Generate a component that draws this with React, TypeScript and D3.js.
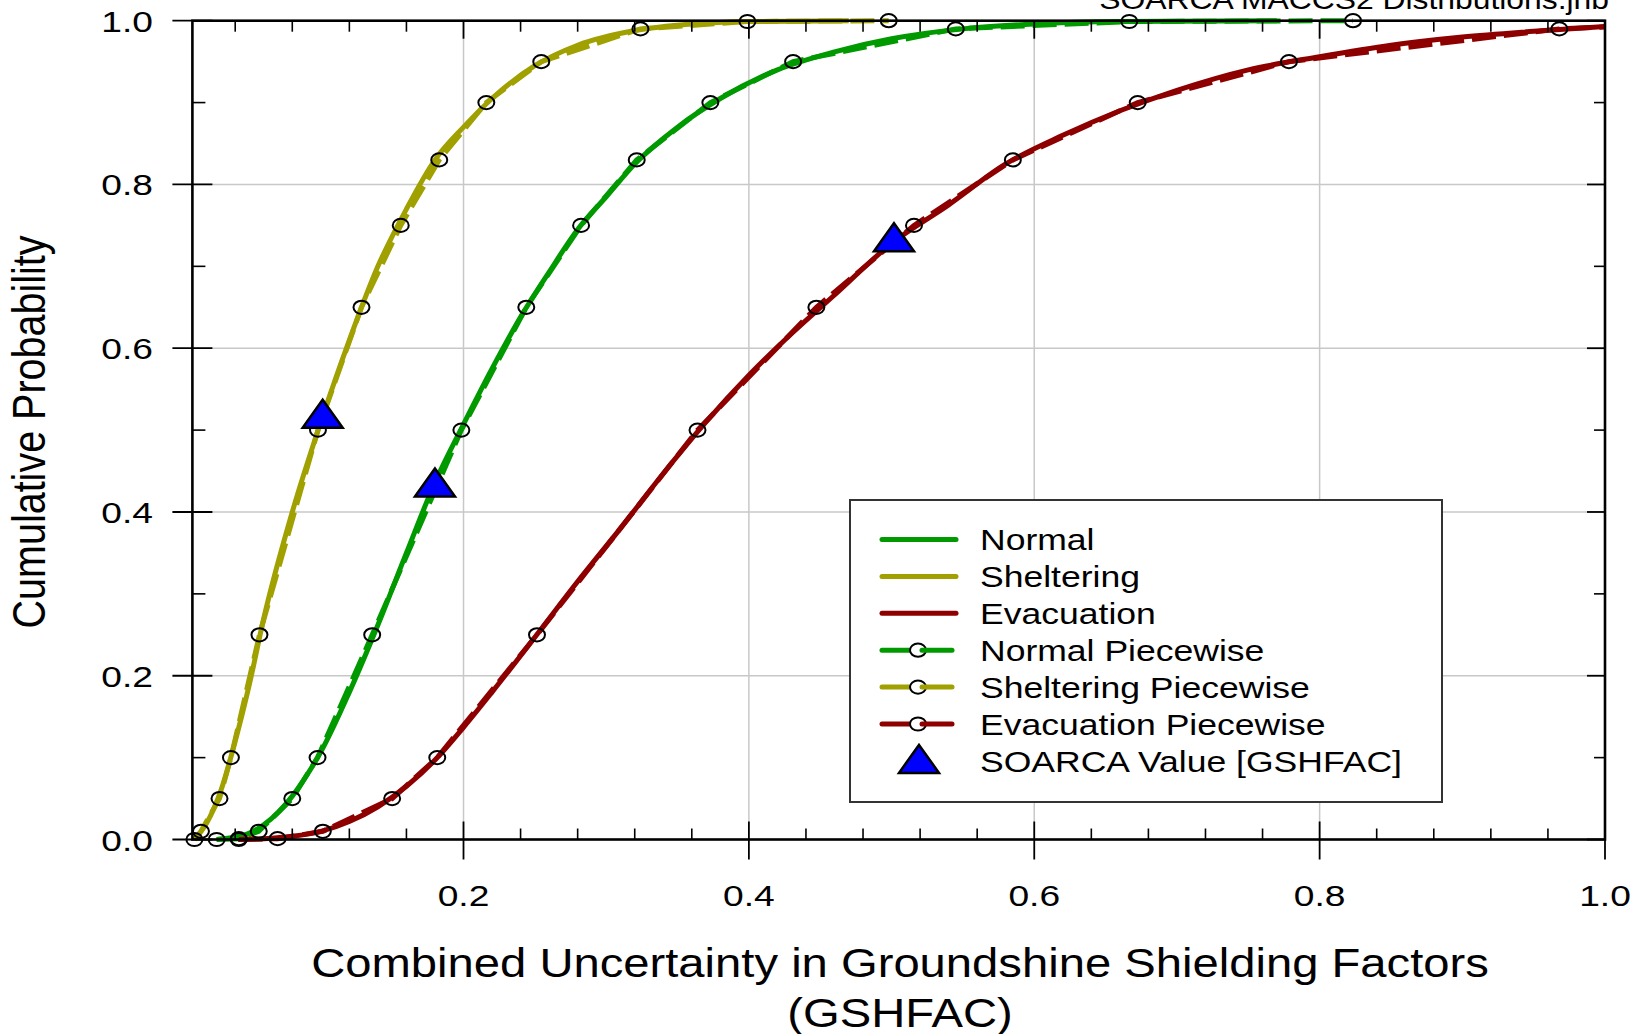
import React from 'react';
import * as d3 from 'd3';

// ---------- data ----------
const seriesNames = ['Normal', 'Sheltering', 'Evacuation'];
const seriesColors = ['#009a00', '#a0a000', '#8e0000'];

// continuous distributions (x, cumulative probability)
const normalX = [0.027, 0.04, 0.05, 0.06, 0.07, 0.08, 0.09, 0.10, 0.12, 0.14, 0.16, 0.18, 0.20, 0.22, 0.24, 0.26, 0.28, 0.30, 0.32, 0.35, 0.38, 0.42, 0.46, 0.50, 0.55, 0.60, 0.66, 0.77];
const normalP = [0, 0.003, 0.008, 0.018, 0.033, 0.053, 0.078, 0.107, 0.18, 0.262, 0.35, 0.436, 0.507, 0.575, 0.638, 0.693, 0.745, 0.785, 0.825, 0.87, 0.905, 0.94, 0.962, 0.978, 0.99, 0.996, 0.999, 1.0];

const shelterX = [0.0114, 0.02, 0.03, 0.04, 0.05, 0.06, 0.08, 0.10, 0.12, 0.14, 0.16, 0.18, 0.20, 0.22, 0.25, 0.28, 0.32, 0.36, 0.40, 0.47];
const shelterP = [0, 0.02, 0.06, 0.12, 0.19, 0.27, 0.40, 0.51, 0.61, 0.70, 0.77, 0.83, 0.87, 0.905, 0.945, 0.97, 0.988, 0.996, 0.999, 1.0];

const evacX = [0.042, 0.06, 0.08, 0.10, 0.12, 0.14, 0.16, 0.18, 0.20, 0.22, 0.25, 0.28, 0.31, 0.34, 0.37, 0.40, 0.43, 0.46, 0.50, 0.54, 0.58, 0.62, 0.66, 0.70, 0.75, 0.80, 0.85, 0.90, 0.95, 1.0];
const evacP = [0, 0.001, 0.004, 0.01, 0.022, 0.04, 0.065, 0.097, 0.137, 0.18, 0.247, 0.315, 0.38, 0.447, 0.51, 0.567, 0.618, 0.665, 0.728, 0.775, 0.825, 0.86, 0.89, 0.915, 0.94, 0.956, 0.97, 0.98, 0.987, 0.993];

// piecewise distributions
const normalPwX = [0.027, 0.0425, 0.0565, 0.080, 0.0977, 0.136, 0.1985, 0.244, 0.2824, 0.3214, 0.373, 0.431, 0.545, 0.6666, 0.8234];
const normalPwP = [0, 0.001, 0.01, 0.05, 0.1, 0.25, 0.5, 0.65, 0.75, 0.83, 0.9, 0.95, 0.99, 0.999, 1.0];

const shelterPwX = [0.0114, 0.016, 0.029, 0.037, 0.057, 0.098, 0.1285, 0.156, 0.183, 0.216, 0.2545, 0.324, 0.399, 0.498];
const shelterPwP = [0, 0.01, 0.05, 0.1, 0.25, 0.5, 0.65, 0.75, 0.83, 0.9, 0.95, 0.99, 0.999, 1.0];

const evacPwX = [0.0425, 0.0697, 0.1014, 0.150, 0.1816, 0.2515, 0.364, 0.4473, 0.5157, 0.585, 0.6725, 0.7785, 0.968, 1.1];
const evacPwP = [0, 0.001, 0.01, 0.05, 0.1, 0.25, 0.5, 0.65, 0.75, 0.83, 0.9, 0.95, 0.99, 1.0];

// SOARCA values
const soarcaX = [0.18, 0.1013, 0.5017];
const soarcaP = [0.436, 0.52, 0.7355];

// axes
const xMajorTicks = [0.2, 0.4, 0.6, 0.8, 1.0];
const xTickLabels = ['0.2', '0.4', '0.6', '0.8', '1.0'];
const xMinorTicks = [0.04, 0.08, 0.12, 0.16, 0.24, 0.28, 0.32, 0.36, 0.44, 0.48, 0.52, 0.56, 0.64, 0.68, 0.72, 0.76, 0.84, 0.88, 0.92, 0.96];
const yMajorTicks = [0, 0.2, 0.4, 0.6, 0.8, 1.0];
const yTickLabels = ['0.0', '0.2', '0.4', '0.6', '0.8', '1.0'];
const yMinorTicks = [0.1, 0.3, 0.5, 0.7, 0.9];
const xGrid = [0.2, 0.4, 0.6, 0.8];
const yGrid = [0.2, 0.4, 0.6, 0.8];

const legendLabels = ['Normal', 'Sheltering', 'Evacuation', 'Normal Piecewise', 'Sheltering Piecewise', 'Evacuation Piecewise', 'SOARCA Value [GSHFAC]'];
const titleText = 'SOARCA MACCS2 Distributions.jnb';
const xTitle1 = 'Combined Uncertainty in Groundshine Shielding Factors';
const xTitle2 = '(GSHFAC)';
const yTitle = 'Cumulative Probability';

// ---------- layout ----------
const W = 1648, H = 1034;
const PL = 192.4, PR = 1605, PT = 20.7, PB = 839.5;
const SX = 1.18;
const FONT = 'Liberation Sans, Arial, Helvetica, sans-serif';

const x = d3.scaleLinear().domain([0.01, 1.0]).range([PL, PR]);
const y = d3.scaleLinear().domain([0, 1]).range([PB, PT]);

const zip = (xs: number[], ps: number[]) => xs.map((v, i) => [v, ps[i]] as [number, number]);

const smooth = [zip(normalX, normalP), zip(shelterX, shelterP), zip(evacX, evacP)];
const piecewise = [zip(normalPwX, normalPwP), zip(shelterPwX, shelterPwP), zip(evacPwX, evacPwP)];

const smoothLine = d3.line<[number, number]>().x(d => x(d[0])).y(d => y(d[1])).curve(d3.curveMonotoneX);
const pwLine = d3.line<[number, number]>().x(d => x(d[0])).y(d => y(d[1]));

const TRI = 'M0,-14 L20,14 L-20,14 Z';

function T(props: { x: number; y: number; size: number; anchor?: string; rot?: boolean; sx?: number; children: React.ReactNode }) {
  const s = props.sx ?? SX;
  return (
    <text
      transform={`translate(${props.x},${props.y}) scale(${s},1)${props.rot ? ' rotate(-90)' : ''}`}
      fontSize={props.size}
      fontFamily={FONT}
      textAnchor={props.anchor || 'start'}
      fill="#000"
    >
      {props.children}
    </text>
  );
}

export default function App() {
  const legendTop = 539.5;
  const legendStep = 36.9;
  return (
    <div style={{ position: 'absolute', left: 0, top: 0 }}>
      <svg width={W} height={H} style={{ display: 'block', background: '#fff' }}>
        <defs>
          <clipPath id="plotClip">
            <rect x={PL} y={PT - 4} width={PR - PL} height={PB - PT + 8} />
          </clipPath>
        </defs>
        <rect x={0} y={0} width={W} height={H} fill="#fff" />

        {/* grid */}
        {xGrid.map((v, i) => (
          <line key={'gx' + i} x1={x(v)} x2={x(v)} y1={PT} y2={PB} stroke="#c8c8c8" strokeWidth={1.5} />
        ))}
        {yGrid.map((v, i) => (
          <line key={'gy' + i} x1={PL} x2={PR} y1={y(v)} y2={y(v)} stroke="#c8c8c8" strokeWidth={1.5} />
        ))}

        {/* title (cut off at top, as in the original) */}
        <T x={1609} y={8.5} size={27} anchor="end">{titleText}</T>

        {/* curves */}
        <g clipPath="url(#plotClip)">
          {smooth.map((s, i) => (
            <path key={'s' + i} d={smoothLine(s) || ''} fill="none" stroke={seriesColors[i]} strokeWidth={5} strokeLinejoin="round" />
          ))}
          {piecewise.map((s, i) => (
            <path key={'p' + i} d={pwLine(s) || ''} fill="none" stroke={seriesColors[i]} strokeWidth={5} strokeDasharray="24 8" />
          ))}
        </g>

        {/* legend box */}
        <rect x={850} y={500} width={592} height={302} fill="#fff" stroke="#333" strokeWidth={2} />

        {/* frame & ticks */}
        <rect x={PL} y={PT} width={PR - PL} height={PB - PT} fill="none" stroke="#000" strokeWidth={2.6} />
        {xMajorTicks.map((v, i) => (
          <g key={'xt' + i}>
            <line x1={x(v)} x2={x(v)} y1={PB - 18} y2={PB + 20} stroke="#000" strokeWidth={1.8} />
            <line x1={x(v)} x2={x(v)} y1={PT} y2={PT + 18} stroke="#000" strokeWidth={1.8} />
            <T x={x(v)} y={905.5} size={30} anchor="middle" sx={1.24}>{xTickLabels[i]}</T>
          </g>
        ))}
        {xMinorTicks.map((v, i) => (
          <g key={'xm' + i}>
            <line x1={x(v)} x2={x(v)} y1={PB - 11} y2={PB} stroke="#000" strokeWidth={1.6} />
            <line x1={x(v)} x2={x(v)} y1={PT} y2={PT + 11} stroke="#000" strokeWidth={1.6} />
          </g>
        ))}
        {yMajorTicks.map((v, i) => (
          <g key={'yt' + i}>
            <line x1={PL - 20} x2={PL + 20} y1={y(v)} y2={y(v)} stroke="#000" strokeWidth={1.8} />
            <line x1={PR - 18} x2={PR} y1={y(v)} y2={y(v)} stroke="#000" strokeWidth={1.8} />
            <T x={153} y={y(v) + 11} size={30} anchor="end" sx={1.24}>{yTickLabels[i]}</T>
          </g>
        ))}
        {yMinorTicks.map((v, i) => (
          <g key={'ym' + i}>
            <line x1={PL} x2={PL + 13} y1={y(v)} y2={y(v)} stroke="#000" strokeWidth={1.6} />
            <line x1={PR - 11} x2={PR} y1={y(v)} y2={y(v)} stroke="#000" strokeWidth={1.6} />
          </g>
        ))}

        {/* piecewise markers */}
        {piecewise.map((s, i) => (
          <g key={'m' + i}>
            {s.filter(d => d[0] <= 1.0).map((d, j) => (
              <ellipse key={j} cx={x(d[0])} cy={y(d[1])} rx={8} ry={6.6} fill="none" stroke="#000" strokeWidth={2} />
            ))}
          </g>
        ))}

        {/* SOARCA triangles */}
        {soarcaX.map((v, i) => (
          <path key={'tri' + i} d={TRI} transform={`translate(${x(v)},${y(soarcaP[i])})`} fill="#0000ff" stroke="#000" strokeWidth={2.5} strokeLinejoin="miter" />
        ))}

        {/* legend */}
        {legendLabels.map((lab, i) => {
          const cy = legendTop + i * legendStep;
          let sym: React.ReactNode = null;
          if (i < 3) {
            sym = <line x1={882} x2={956} y1={cy} y2={cy} stroke={seriesColors[i]} strokeWidth={5} strokeLinecap="round" />;
          } else if (i < 6) {
            const c = seriesColors[i - 3];
            sym = (
              <g>
                <line x1={882} x2={909} y1={cy} y2={cy} stroke={c} strokeWidth={5} strokeLinecap="round" />
                <ellipse cx={918} cy={cy} rx={8} ry={6.6} fill="#fff" stroke="#000" strokeWidth={2} />
                <line x1={922} x2={952} y1={cy} y2={cy} stroke={c} strokeWidth={5} strokeLinecap="round" />
              </g>
            );
          } else {
            sym = <path d={TRI} transform={`translate(919,${cy - 2})`} fill="#0000ff" stroke="#000" strokeWidth={2.5} />;
          }
          return (
            <g key={'lg' + i}>
              {sym}
              <T x={980} y={cy + 10.7} size={30} sx={1.185}>{lab}</T>
            </g>
          );
        })}

        {/* axis titles */}
        <T x={900} y={976.5} size={40} anchor="middle">{xTitle1}</T>
        <T x={900} y={1027} size={40} anchor="middle">{xTitle2}</T>
        <T x={45} y={432} size={39.5} anchor="middle" rot>{yTitle}</T>
      </svg>
    </div>
  );
}
